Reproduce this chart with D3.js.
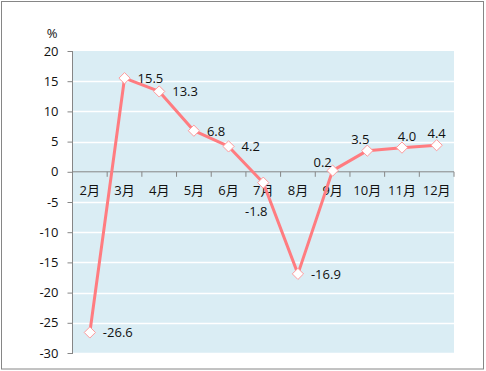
<!DOCTYPE html>
<html>
<head>
<meta charset="utf-8">
<script src="https://cdn.jsdelivr.net/npm/d3@7"></script>
<style>
  body { margin: 0; background: #fff; }
  svg { display: block; font-family: "Open Sans", "Noto Sans CJK SC", sans-serif; }
</style>
</head>
<body>
<script>
var months = ["2月", "3月", "4月", "5月", "6月", "7月", "8月", "9月", "10月", "11月", "12月"]
var growth = [-26.6, 15.5, 13.3, 6.8, 4.2, -1.8, -16.9, 0.2, 3.5, 4.0, 4.4]
var yTicks = [20, 15, 10, 5, 0, -5, -10, -15, -20, -25, -30]
// where each data label sits relative to its point
var labelPos = ["right", "right", "right", "right", "right", "belowLeft", "right", "aboveLeft", "above", "above", "above"]

var width = 486, height = 371
var plotLeft = 72.5, plotRight = 454, plotTop = 51, plotBottom = 353

var svg = d3.select("body").append("svg")
    .attr("width", width)
    .attr("height", height)

svg.append("rect")
    .attr("x", 1.5).attr("y", 1.5)
    .attr("width", 482).attr("height", 367.5)
    .attr("fill", "#fff")
    .attr("stroke", "#868686")
    .attr("stroke-width", 1)

var x = d3.scaleBand().domain(months).range([plotLeft, plotRight])
var y = d3.scaleLinear().domain([-30, 20]).range([plotBottom, plotTop])

// plot background
svg.append("rect")
    .attr("x", plotLeft).attr("y", plotTop)
    .attr("width", plotRight - plotLeft).attr("height", plotBottom - plotTop + 1)
    .attr("fill", "#daedf4")

// grid lines
svg.append("g")
    .selectAll("line")
    .data(yTicks.filter(function(d) { return d !== 0 && d !== 20 }))
    .join("line")
    .attr("x1", plotLeft).attr("x2", plotRight)
    .attr("y1", function(d) { return Math.round(y(d)) + 0.5 })
    .attr("y2", function(d) { return Math.round(y(d)) + 0.5 })
    .attr("stroke", "#fff")
    .attr("stroke-width", 1.5)

var fmt = function(f) {
    return function(d) { return d3.format(f)(d).replace("−", "-") }
}

// y axis
var yAxis = svg.append("g")
    .attr("transform", "translate(" + plotLeft + ",0)")
    .call(d3.axisLeft(y).tickValues(yTicks).tickSize(5).tickPadding(9).tickFormat(fmt("d")))
yAxis.select(".domain").attr("stroke", "#868686").attr("d", "M0," + plotTop + "V" + (plotBottom + 1))
yAxis.selectAll(".tick line").attr("stroke", "#868686")
yAxis.selectAll(".tick text")
    .attr("fill", "#111")
    .style("font-size", "13px")
    .style("font-family", "'Open Sans', 'Noto Sans CJK SC', sans-serif")

// x axis on the zero line
var xAxis = svg.append("g")
    .attr("transform", "translate(0," + y(0) + ")")
    .call(d3.axisBottom(x).tickSize(0).tickPadding(14))
xAxis.select(".domain").attr("stroke", "#868686").attr("d", "M" + plotLeft + ",0H" + plotRight)
xAxis.selectAll(".tick text")
    .attr("fill", "#111")
    .style("font-size", "13px")
    .style("font-family", "'Open Sans', 'Noto Sans CJK SC', sans-serif")

// category boundary ticks
svg.append("g")
    .selectAll("line")
    .data(months.slice(1).concat(["end"]))
    .join("line")
    .attr("x1", function(d) { return d === "end" ? plotRight : x(d) })
    .attr("x2", function(d) { return d === "end" ? plotRight : x(d) })
    .attr("y1", y(0)).attr("y2", y(0) + 5)
    .attr("stroke", "#868686")

svg.append("text")
    .attr("x", 52).attr("y", 38)
    .attr("text-anchor", "middle")
    .attr("fill", "#111")
    .style("font-size", "13px")
    .text("%")

var cx = function(d, i) { return x(months[i]) + x.bandwidth() / 2 }

var line = d3.line()
    .x(function(d, i) { return cx(d, i) })
    .y(function(d) { return y(d) })

svg.append("path")
    .datum(growth)
    .attr("d", line)
    .attr("fill", "none")
    .attr("stroke", "#ff7c80")
    .attr("stroke-width", 3)
    .attr("stroke-linejoin", "round")

svg.append("g")
    .selectAll("path")
    .data(growth)
    .join("path")
    .attr("d", d3.symbol().type(d3.symbolDiamond2).size(80))
    .attr("transform", function(d, i) { return "translate(" + cx(d, i) + "," + y(d) + ")" })
    .attr("fill", "#fff")
    .attr("stroke", "#ff9a9c")
    .attr("stroke-width", 1)

svg.append("g")
    .selectAll("text")
    .data(growth)
    .join("text")
    .attr("x", function(d, i) {
        var p = labelPos[i]
        if (p === "right") return cx(d, i) + 13
        if (p === "belowLeft") return cx(d, i) - 7
        if (p === "aboveLeft") return cx(d, i) - 10
        return cx(d, i) + (i === 9 ? 5 : (i === 8 ? -7 : 0))
    })
    .attr("y", function(d, i) {
        var p = labelPos[i]
        if (p === "right") return y(d) + 5
        if (p === "belowLeft") return y(d) + 33
        if (p === "aboveLeft") return y(d) - 4
        return y(d) - 7
    })
    .attr("text-anchor", function(d, i) { return labelPos[i] === "right" ? "start" : "middle" })
    .attr("fill", "#111")
    .style("font-size", "13px")
    .text(fmt(".1f"))
</script>
</body>
</html>
